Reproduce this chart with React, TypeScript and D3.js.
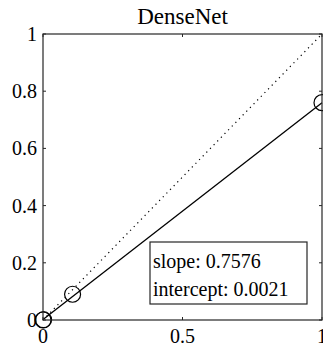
import React from 'react';
import * as d3 from 'd3';

const title = 'DenseNet';
const pointX = [0, 0.002, 0.106, 1];
const pointY = [0, 0.001, 0.09, 0.76];
const slope = 0.7576;
const intercept = 0.0021;
const xTicks = [0, 0.5, 1];
const yTicks = [0, 0.2, 0.4, 0.6, 0.8, 1];

const W = 323;
const H = 347;
const left = 43;
const right = 322;
const top = 34;
const bottom = 320;
const font = '"Liberation Serif", "Times New Roman", serif';
const axisColor = '#262626';

const App = () => {
  const x = d3.scaleLinear().domain([0, 1]).range([left, right]);
  const y = d3.scaleLinear().domain([0, 1]).range([bottom, top]);

  const fit = d3
    .line<number>()
    .x(d => x(d))
    .y(d => y(slope * d + intercept));

  const diag = d3
    .line<number>()
    .x(d => x(d))
    .y(d => y(d));

  const fmt = (v: number) => (v === 0 || v === 1 ? String(v) : String(v));

  return (
    <svg
      width={W}
      height={H}
      style={{ position: 'absolute', left: 0, top: 0, background: '#fff' }}
      fontFamily={font}>
      <text x={(left + right) / 2} y={24} fontSize={23} textAnchor="middle" fill="#000">
        {title}
      </text>

      {/* reference diagonal */}
      <path d={diag([0, 1]) || ''} fill="none" stroke="#000" strokeWidth={1.2} strokeDasharray="1.2,4" />

      {/* fitted line */}
      <path d={fit([0, 1]) || ''} fill="none" stroke="#000" strokeWidth={1.3} />

      {pointX.map((px, i) => (
        <circle
          key={'pt' + i}
          cx={x(px)}
          cy={y(pointY[i])}
          r={8}
          fill="none"
          stroke="#000"
          strokeWidth={1.2}
        />
      ))}

      {/* axes box */}
      <rect
        x={left}
        y={top}
        width={right - left}
        height={bottom - top}
        fill="none"
        stroke={axisColor}
        strokeWidth={1.2}
      />

      {xTicks.map(t => (
        <g key={'xt' + t}>
          <line x1={x(t)} x2={x(t)} y1={bottom} y2={bottom - 3} stroke={axisColor} />
          <line x1={x(t)} x2={x(t)} y1={top} y2={top + 3} stroke={axisColor} />
          <text x={x(t)} y={343} fontSize={20} textAnchor="middle" fill="#000">
            {fmt(t)}
          </text>
        </g>
      ))}

      {yTicks.map(t => (
        <g key={'yt' + t}>
          <line x1={left} x2={left + 3} y1={y(t)} y2={y(t)} stroke={axisColor} />
          <line x1={right} x2={right - 3} y1={y(t)} y2={y(t)} stroke={axisColor} />
          <text x={37} y={y(t) + 7} fontSize={20} textAnchor="end" fill="#000">
            {fmt(t)}
          </text>
        </g>
      ))}

      {/* annotation box */}
      <rect x={150} y={242} width={157} height={62} fill="#fff" stroke={axisColor} strokeWidth={1.2} />
      <text x={153} y={268} fontSize={20} fill="#000">
        {'slope: ' + slope.toFixed(4)}
      </text>
      <text x={153} y={296} fontSize={20} fill="#000">
        {'intercept: ' + intercept.toFixed(4)}
      </text>
    </svg>
  );
};

export default App;
